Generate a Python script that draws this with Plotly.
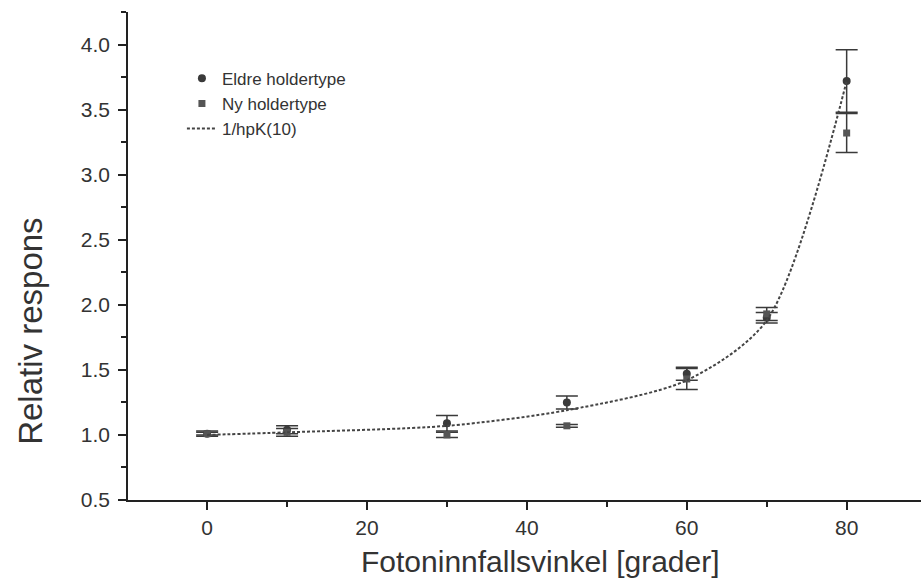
import plotly.graph_objects as go

angles = [0, 10, 30, 45, 60, 70, 80]
eldre_y = [1.01, 1.04, 1.09, 1.25, 1.47, 1.90, 3.72]
eldre_err = [0.02, 0.03, 0.06, 0.05, 0.05, 0.04, 0.24]
ny_y = [1.01, 1.02, 1.00, 1.07, 1.43, 1.93, 3.32]
ny_err = [0.01, 0.03, 0.02, 0.01, 0.08, 0.05, 0.15]
fit_y = [1.00, 1.02, 1.07, 1.19, 1.42, 1.88, 3.72]

x_ticks = [0, 20, 40, 60, 80]
y_ticks = [0.5, 1.0, 1.5, 2.0, 2.5, 3.0, 3.5, 4.0]

x_title = "Fotoninnfallsvinkel [grader]"
y_title = "Relativ respons"

col = "#3a3a3a"
font = "Liberation Sans, Arial, sans-serif"

fig = go.Figure()
fig.add_trace(go.Scatter(
    x=angles, y=eldre_y, mode="markers", name="Eldre holdertype",
    marker=dict(symbol="circle", size=8, color=col),
    error_y=dict(type="data", array=eldre_err, visible=True, color=col, thickness=1.5, width=11),
))
fig.add_trace(go.Scatter(
    x=angles, y=ny_y, mode="markers", name="Ny holdertype",
    marker=dict(symbol="square", size=7, color="#555555"),
    error_y=dict(type="data", array=ny_err, visible=True, color=col, thickness=1.5, width=11),
))
fig.add_trace(go.Scatter(
    x=angles, y=fit_y, mode="lines", name="1/hpK(10)",
    line=dict(color="#444444", width=2, dash="3px,2px", shape="spline", smoothing=0.8),
))

fig.update_layout(
    width=921, height=580,
    margin=dict(l=128, r=0, t=12, b=80),
    paper_bgcolor="white", plot_bgcolor="white",
    font=dict(family=font, color="#333333", size=21),
    showlegend=True,
    legend=dict(
        x=0.068, y=0.9, xanchor="left", yanchor="top",
        bgcolor="rgba(0,0,0,0)", font=dict(size=17, color="#333333"),
        itemwidth=30, tracegroupgap=0,
    ),
    xaxis=dict(
        range=[-9.9, 89.3], tickvals=x_ticks, ticktext=[str(v) for v in x_ticks],
        showgrid=False, zeroline=False, showline=True, linecolor="#222222", linewidth=1.5,
        ticks="outside", ticklen=8, tickwidth=1.5, tickcolor="#222222",
        minor=dict(dtick=10, tick0=0, ticks="outside", ticklen=5, tickwidth=1.5, tickcolor="#222222"),
        tickfont=dict(size=21),
        automargin=False,
    ),
    yaxis=dict(
        range=[0.5, 4.25], tickvals=y_ticks, ticktext=[f"{v:.1f}" for v in y_ticks],
        showgrid=False, zeroline=False, showline=True, linecolor="#222222", linewidth=1.5,
        ticks="outside", ticklen=8, tickwidth=1.5, tickcolor="#222222",
        minor=dict(dtick=0.25, tick0=0.5, ticks="outside", ticklen=5, tickwidth=1.5, tickcolor="#222222"),
        tickfont=dict(size=21), ticklabelstandoff=4,
        automargin=False,
    ),
    annotations=[
        dict(text=x_title, xref="paper", yref="paper", x=0.52, y=-0.127,
             xanchor="center", yanchor="middle", showarrow=False,
             font=dict(size=30, color="#333333")),
        dict(text=y_title, xref="paper", yref="paper", x=-0.124, y=0.346,
             xanchor="center", yanchor="middle", showarrow=False, textangle=-90,
             font=dict(size=33, color="#333333")),
    ],
)

fig.write_html("out.html")
